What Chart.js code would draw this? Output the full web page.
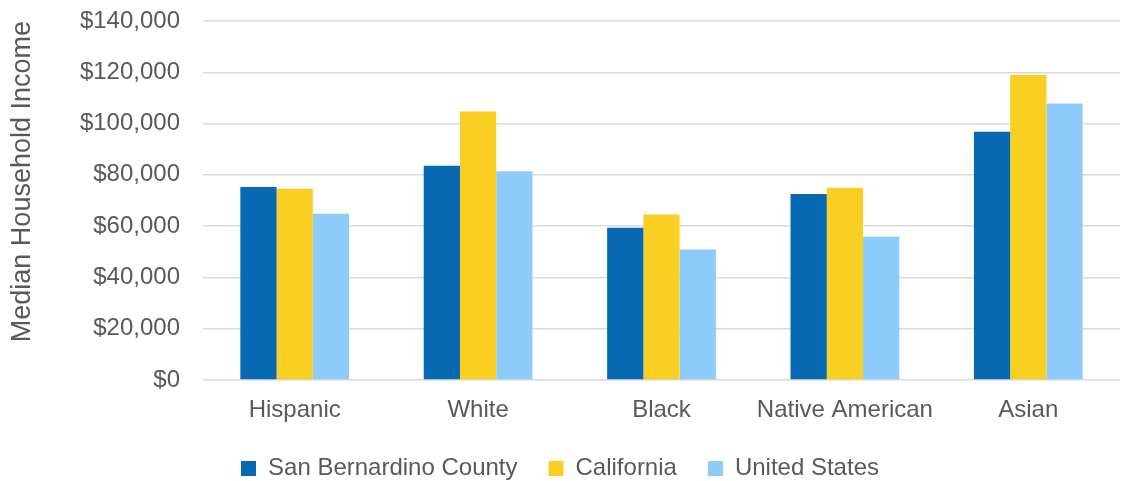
<!DOCTYPE html>
<html>
<head>
<meta charset="utf-8">
<script src="https://cdn.jsdelivr.net/npm/chart.js@4"></script>
<style>
  html, body { margin: 0; padding: 0; background: #fff; }
  #wrap { width: 1132px; height: 481px; }
</style>
</head>
<body>
<div id="wrap"><canvas id="graficoRenda"></canvas></div>
<script>
// Renda mediana por grupo
const categories = ['Hispanic', 'White', 'Black', 'Native American', 'Asian'];
const sanBernardino = [75300, 83600, 59400, 72500, 96800];
const california = [74600, 104700, 64500, 75000, 118900];
const unitedStates = [64800, 81400, 50900, 55900, 107800];
const yTicks = [0, 20000, 40000, 60000, 80000, 100000, 120000, 140000];

const textColor = '#595959';
const fontFamily = '"Liberation Sans", Arial, sans-serif';

window.addEventListener('DOMContentLoaded', () => {
  const ctx = document.getElementById('graficoRenda').getContext('2d');
  new Chart(ctx, {
    type: 'bar',
    data: {
      labels: categories,
      datasets: [
        { label: 'San Bernardino County', data: sanBernardino, backgroundColor: '#0669b1' },
        { label: 'California', data: california, backgroundColor: '#facf23' },
        { label: 'United States', data: unitedStates, backgroundColor: '#8dcbfa' }
      ]
    },
    options: {
      responsive: true,
      maintainAspectRatio: false,
      animation: false,
      datasets: {
        bar: { barPercentage: 1.0, categoryPercentage: 0.593 }
      },
      layout: { padding: { top: 21, right: 12, left: 0, bottom: -9.5 } },
      plugins: {
        legend: {
          position: 'bottom',
          labels: {
            color: textColor,
            font: { family: fontFamily, size: 24 },
            boxWidth: 15,
            boxHeight: 15,
            padding: 31
          }
        },
        tooltip: { enabled: false }
      },
      scales: {
        x: {
          grid: { display: false },
          border: { display: false },
          ticks: {
            color: textColor,
            font: { family: fontFamily, size: 24 },
            padding: 8,
            maxRotation: 0
          },
          afterFit: (scale) => { scale.height = 45.5; }
        },
        y: {
          min: 0,
          max: 140000,
          afterBuildTicks: (scale) => { scale.ticks = yTicks.map(v => ({ value: v })); },
          grid: { color: '#d9d9d9', lineWidth: 1.5, drawTicks: false },
          border: { display: false },
          ticks: {
            color: textColor,
            font: { family: fontFamily, size: 24 },
            padding: 23,
            callback: (v) => '$' + Number(v).toLocaleString('en-US')
          },
          title: {
            display: true,
            text: 'Median Household Income',
            align: 'end',
            color: textColor,
            font: { family: fontFamily, size: 27 },
            padding: { top: 6, bottom: 0 }
          },
          afterFit: (scale) => {
            // fixed axis width; top/bottom spacing comes from layout padding
            scale.width = 203;
            scale.paddingTop = 0;
            scale.paddingBottom = 0;
          }
        }
      }
    }
  });
});
</script>
</body>
</html>
